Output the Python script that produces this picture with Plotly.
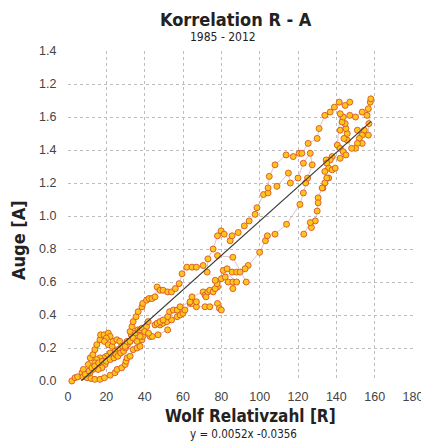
import plotly.graph_objects as go

# ---- data ----
path1_R = [2, 3.7, 5, 7.3, 8, 10.6, 11.6, 13, 14, 15, 16.7, 17, 18.8, 21, 22, 20, 19, 21, 23, 23.5,
           25.5, 27, 28, 26, 24.5, 22, 20, 18.5, 16.7, 15, 14, 15.7, 17.7, 19.3, 17.7, 15.7, 13, 11.5, 10, 7.8,
           10, 12, 14, 16.7, 19, 22, 24.5, 25.6, 28, 29.8, 30.3, 30.8, 32.4, 34, 36, 37.6, 38.6, 39, 42.8, 44,
           47, 52]
path1_A = [0.00, 0.02, 0.025, 0.05, 0.07, 0.10, 0.14, 0.16, 0.19, 0.22, 0.25, 0.28, 0.28, 0.29, 0.27, 0.26, 0.24, 0.22, 0.21, 0.24,
           0.25, 0.24, 0.21, 0.19, 0.18, 0.17, 0.15, 0.14, 0.14, 0.13, 0.11, 0.10, 0.11, 0.10, 0.08, 0.07, 0.07, 0.05, 0.04, 0.025,
           0.02, 0.015, 0.01, 0.01, 0.02, 0.035, 0.05, 0.07, 0.08, 0.10, 0.12, 0.14, 0.15, 0.19, 0.20, 0.21, 0.25, 0.27, 0.27, 0.27,
           0.28, 0.31]

path2_R = [9, 11, 12.5, 14, 16, 18, 20, 22, 24, 25, 26, 27.5, 29, 30, 31, 32.4, 34, 33, 35, 36.5,
           37.6, 38.6, 41, 41.8, 45.4, 48, 49.6, 51.6, 54, 57, 58.5, 60, 61, 63.7, 65, 67, 71.5, 74, 78, 79, 80]
path2_A = [0.04, 0.06, 0.08, 0.09, 0.11, 0.12, 0.12, 0.13, 0.14, 0.16, 0.15, 0.17, 0.18, 0.20, 0.22, 0.24, 0.26, 0.28, 0.29, 0.31,
           0.31, 0.32, 0.33, 0.36, 0.34, 0.34, 0.35, 0.36, 0.37, 0.39, 0.40, 0.41, 0.43, 0.47, 0.47, 0.45, 0.45, 0.45, 0.47, 0.44, 0.43]

path3_R = [32.4, 33.4, 34, 35.5, 36.6, 38.6, 39, 41, 42.3, 43.8, 45.4, 46.5, 48, 49.6, 52, 54, 56, 58, 59.5, 62,
           64.7, 67, 70.5, 72.6, 73, 75.7, 78, 79.9, 81.5, 84.6, 85.6, 88.8, 92, 94.5, 97.6, 98.6, 102, 104.4, 104.4, 105,
           108, 113.8, 117.5, 120.6, 122, 125.3, 130, 131, 134, 136.8, 139, 141.5, 144.6, 147]
path3_A = [0.30, 0.33, 0.36, 0.39, 0.42, 0.45, 0.47, 0.49, 0.50, 0.50, 0.51, 0.57, 0.55, 0.55, 0.54, 0.54, 0.56, 0.59, 0.65, 0.69,
           0.69, 0.69, 0.70, 0.66, 0.74, 0.80, 0.88, 0.91, 0.89, 0.85, 0.88, 0.90, 0.94, 0.97, 1.01, 1.05, 1.13, 1.14, 1.17, 1.24,
           1.31, 1.37, 1.36, 1.38, 1.38, 1.44, 1.47, 1.53, 1.61, 1.63, 1.66, 1.69, 1.67, 1.69]

path4_R = [147, 150, 153.5, 156, 156.7, 157.7, 158, 157, 156.7, 154.6, 153.5, 152, 151, 153.5, 151, 150, 148, 145.7, 144, 145.7,
           145, 142, 144.6, 143, 143.6, 142, 140.5, 142, 143.6, 145, 142, 137.8, 136.8, 134.7, 135, 136, 137.8, 139.4, 134, 136,
           135, 134, 133, 132.6, 130.5, 130.5, 130, 129, 127, 126.4, 123]
path4_A = [1.61, 1.60, 1.63, 1.61, 1.65, 1.69, 1.71, 1.56, 1.49, 1.52, 1.49, 1.47, 1.52, 1.44, 1.44, 1.41, 1.41, 1.46, 1.47, 1.50,
           1.53, 1.52, 1.56, 1.57, 1.60, 1.62, 1.43, 1.41, 1.39, 1.37, 1.35, 1.36, 1.34, 1.34, 1.32, 1.29, 1.28, 1.29, 1.27, 1.23,
           1.23, 1.20, 1.17, 1.17, 1.11, 1.08, 1.03, 0.97, 0.93, 0.96, 0.89]

path5_R = [94, 100, 103, 104, 108, 114, 121, 122.8, 124, 125, 127.4, 126.4, 122.8, 120, 116, 115, 109]
path5_A = [0.70, 0.78, 0.85, 0.88, 0.89, 0.95, 1.07, 1.14, 1.20, 1.23, 1.31, 1.38, 1.32, 1.23, 1.20, 1.26, 1.18]

path6_R = [46.5, 48, 49.6, 52, 53, 55, 57, 58.5, 63.7, 67, 64.7, 70.5, 71.5, 72, 73, 74, 75.7, 78, 76.8, 77.8,
           76.8, 80, 82, 83.6, 86, 86, 88, 81, 83, 85.6, 88, 89.8, 92.4]
path6_A = [0.35, 0.36, 0.37, 0.39, 0.42, 0.43, 0.43, 0.45, 0.48, 0.48, 0.51, 0.54, 0.52, 0.51, 0.54, 0.55, 0.54, 0.57, 0.56, 0.59,
           0.61, 0.62, 0.63, 0.60, 0.60, 0.56, 0.60, 0.67, 0.68, 0.66, 0.66, 0.66, 0.68]

path7_R = [78, 86, 93]
path7_A = [0.76, 0.75, 0.60]

path8_R = [29.8, 30.8, 32.4, 34, 36, 37.6, 40, 42]
path8_A = [0.21, 0.24, 0.24, 0.26, 0.24, 0.27, 0.30, 0.29]

paths = [(path1_R, path1_A), (path2_R, path2_A), (path3_R, path3_A), (path4_R, path4_A),
         (path5_R, path5_A), (path6_R, path6_A), (path7_R, path7_A), (path8_R, path8_A)]

# trend line as drawn in the chart
fit_slope = 0.0104
fit_intercept = -0.0712
fit_x = [7, 158]

x_ticks = [0, 20, 40, 60, 80, 100, 120, 140, 160, 180]
y_tickvals = [0.0, 0.2, 0.4, 0.6, 0.8, 1.0, 1.2, 1.4, 1.6, 1.8, 2.0]
y_ticktext = ["0.0", "0.2", "0.4", "0.6", "0.8", "1.0", "1.2", "1.4", "1.6", "1.2", "1.4"]

F_COND = "DejaVu Sans Condensed, Liberation Sans, sans-serif"
F_TICK = "Liberation Sans, sans-serif"

fig = go.Figure()
for R, A in paths:
    fig.add_trace(go.Scatter(
        x=R, y=A, mode="lines+markers",
        line=dict(color="rgba(195,175,182,0.9)", width=0.8),
        marker=dict(size=6, color="#FFC61A", line=dict(color="#D9542B", width=0.9)),
        cliponaxis=False, showlegend=False, hoverinfo="skip"))

fig.add_trace(go.Scatter(
    x=fit_x, y=[fit_slope * v + fit_intercept for v in fit_x], mode="lines",
    line=dict(color="#3a3a3a", width=1.2), showlegend=False, hoverinfo="skip"))

grid = dict(showgrid=True, gridcolor="#bdbdbd", gridwidth=1, griddash="dot",
            zeroline=False, showline=False, automargin=False)
fig.update_xaxes(range=[0, 180], tickvals=x_ticks, ticks="outside", ticklen=4,
                 ticklabeloverflow="allow",
                 tickcolor="rgba(0,0,0,0)", tickfont=dict(family=F_TICK, size=12.5, color="#444"), **grid)
fig.update_yaxes(range=[0, 2.0], tickvals=y_tickvals, ticktext=y_ticktext, ticks="outside",
                 ticklen=8, tickcolor="rgba(0,0,0,0)",
                 tickfont=dict(family=F_TICK, size=12.5, color="#444"), **grid)

def px_to_paper(px, py):
    return (px - 68) / 345.0, (381 - py) / 330.0

annos = [
    ("<b>Korrelation R - A</b>", 236, 19, 18, 0),
    ("1985 - 2012", 223, 37, 12, 0),
    ("<b>Wolf Relativzahl [R]</b>", 250, 416, 17, 0),
    ("y = 0.0052x -0.0356", 243, 434, 11.5, 0),
    ("<b>Auge [A]</b>", 18, 240, 18, -90),
]
for text, px, py, size, ang in annos:
    xp, yp = px_to_paper(px, py)
    fig.add_annotation(text=text, x=xp, y=yp, xref="paper", yref="paper",
                       showarrow=False, xanchor="center", yanchor="middle",
                       textangle=ang, font=dict(family=F_COND, size=size, color="#222"))

fig.update_layout(width=421, height=443, margin=dict(l=68, r=8, t=51, b=62, autoexpand=False),
                  plot_bgcolor="white", paper_bgcolor="white")

fig.write_html("out.html", config={"displayModeBar": False},
               post_script="document.body.style.margin='0px';")
